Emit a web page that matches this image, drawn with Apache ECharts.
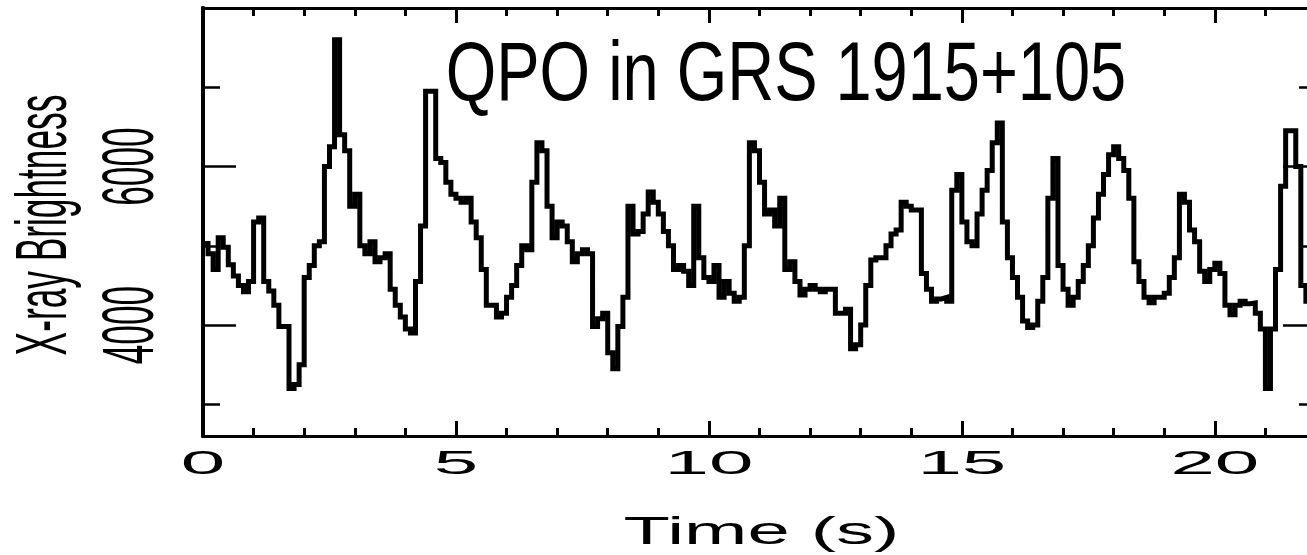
<!DOCTYPE html>
<html>
<head>
<meta charset="utf-8">
<script src="https://cdn.jsdelivr.net/npm/echarts@6/dist/echarts.min.js"></script>
<style>
  html, body { margin: 0; padding: 0; background: #fff; }
  #chart { width: 1307px; height: 555px; }
</style>
</head>
<body>
<div id="chart"></div>
<script>
// ---- data ----
const DT = 0.1; // bin width in seconds
const brightness = [
  5030, 4900, 4700, 5100, 4980, 4760, 4620, 4500, 4420, 4550,
  5300, 5350, 4550, 4430, 4250, 3980, 3980, 3200, 3250, 3500,
  4600, 4750, 5000, 5050, 6000, 6250, 7600, 6400, 6200, 5500,
  5650, 5000, 4900, 5050, 4800, 4850, 4900,
  4450, 4250, 4100, 3950, 3900, 4550, 5250, 6950, 6950, 6100,
  6050, 5800, 5650, 5600, 5550, 5600, 5300, 5100, 4700, 4250,
  4250, 4100, 4150, 4350, 4500, 4750, 5000, 4950, 5800, 6300,
  6200, 5500, 5100, 5300, 5250, 5050,
  4800, 4900, 4950, 4900, 3980, 4080, 4150, 3650, 3450, 3980,
  4350, 5500, 5150, 5180, 5400, 5680, 5550, 5400, 5180, 5000,
  4700, 4750, 4680, 4500, 5500, 4850, 4600, 4550, 4750, 4350,
  4550, 4400, 4300, 4350, 5000, 6300, 6200,
  5800, 5400, 5450, 5250, 5600, 4700, 4800, 4550, 4380, 4450,
  4500, 4450, 4420, 4450, 4450, 4150, 4150, 4200, 3700, 3750,
  4000, 4500, 4820, 4850, 4850, 5000, 5150, 5200, 5550, 5500,
  5450, 5450, 4650, 4450, 4300, 4330,
  4350, 4300, 5700, 5900, 5300, 5050, 5000, 5400, 5700, 5950,
  6300, 6550, 5300, 4850, 4600, 4350, 4050, 3970, 4000, 4300,
  4600, 5600, 6100, 4750, 4450, 4250, 4350, 4550, 4750, 5000,
  5350, 5650, 5900, 6150, 6250, 6100, 5950,
  5600, 4800, 4550, 4350, 4280, 4350, 4350, 4400, 4600, 4850,
  5650, 5550, 5200, 5050, 4680, 4550, 4700, 4780, 4650, 4250,
  4130, 4250, 4300, 4270, 4280, 4150, 3950, 3200, 3950, 4700,
  5750, 6450, 6450, 6000, 4500, 4300, 4350
];
const xMajorTicks = [0, 5, 10, 15, 20];
const xTickLabels = ['0', '5', '10', '15', '20'];
const yMinorTicks = [3000, 5000, 7000];
const yMajorTicks = [4000, 6000];
const yTickLabels = ['4000', '6000'];
const titleText = 'QPO in GRS 1915+105';
const xAxisName = 'Time (s)';
const yAxisName = 'X-ray Brightness';

const X_MIN = 0, X_MAX = 22, Y_MIN = 2600, Y_MAX = 8000;

const seriesData = brightness.map((v, i) => [+(i * DT).toFixed(2), v]);

const chart = echarts.init(document.getElementById('chart'), null, { renderer: 'canvas' });

const FONT = '"Liberation Sans", Arial, sans-serif';

function xAx(position, interval, len, lineW) {
  return {
    type: 'value', position: position, min: X_MIN, max: X_MAX, interval: interval,
    gridIndex: 0,
    axisLine: { show: true, onZero: false, lineStyle: { color: '#000', width: lineW } },
    axisTick: { show: true, inside: true, length: len, lineStyle: { color: '#000', width: 3 } },
    axisLabel: { show: false },
    splitLine: { show: false }
  };
}
function yAx(position, ticks, len, lineW) {
  return {
    type: 'value', position: position, min: Y_MIN, max: Y_MAX,
    gridIndex: 0,
    axisLine: { show: true, onZero: false, lineStyle: { color: '#000', width: lineW } },
    axisTick: { show: true, inside: true, length: len, customValues: ticks, lineStyle: { color: '#000', width: 2.5 } },
    axisLabel: { show: false },
    splitLine: { show: false }
  };
}

chart.setOption({
  animation: false,
  backgroundColor: '#fff',
  grid: { left: 203, top: 8, width: 1113, height: 428, containLabel: false, outerBoundsMode: 'none' },
  xAxis: [
    xAx('bottom', 1, 8, 3),
    xAx('bottom', 5, 15, 3),
    xAx('top', 1, 8, 3),
    xAx('top', 5, 15, 3)
  ],
  yAxis: [
    yAx('left', yMinorTicks, 17, 4),
    yAx('left', yMajorTicks, 33, 4),
    yAx('right', yMinorTicks, 17, 3),
    yAx('right', yMajorTicks, 33, 3)
  ],
  series: [{
    type: 'line',
    xAxisIndex: 0, yAxisIndex: 0,
    data: seriesData,
    step: 'end',
    showSymbol: false,
    symbol: 'none',
    clip: true,
    lineStyle: { color: '#000', width: 5, join: 'miter', cap: 'butt' }
  }]
});

// text elements positioned through the axes' own scales
const graphics = [];
xMajorTicks.forEach((v, i) => {
  const px = chart.convertToPixel({ xAxisIndex: 0 }, v);
  graphics.push({
    type: 'text', x: px, y: 465, scaleX: 2.35, scaleY: 1,
    style: { text: xTickLabels[i], font: '34px ' + FONT, fill: '#000',
             align: 'center', verticalAlign: 'middle', textAlign: 'center', textVerticalAlign: 'middle' }
  });
});
yMajorTicks.forEach((v, i) => {
  const py = chart.convertToPixel({ yAxisIndex: 0 }, v);
  graphics.push({
    type: 'text', x: 133, y: py, rotation: Math.PI / 2, scaleX: 0.49, scaleY: 1,
    style: { text: yTickLabels[i], font: '72px ' + FONT, fill: '#000',
             align: 'center', verticalAlign: 'middle', textAlign: 'center', textVerticalAlign: 'middle' }
  });
});
const gridMidY = (chart.convertToPixel({ yAxisIndex: 0 }, Y_MIN) + chart.convertToPixel({ yAxisIndex: 0 }, Y_MAX)) / 2;
const gridMidX = (chart.convertToPixel({ xAxisIndex: 0 }, X_MIN) + chart.convertToPixel({ xAxisIndex: 0 }, X_MAX)) / 2;
graphics.push({
  type: 'text', x: 46, y: gridMidY + 3, rotation: Math.PI / 2, scaleX: 0.49, scaleY: 1,
  style: { text: yAxisName, font: '72px ' + FONT, fill: '#000',
           align: 'center', verticalAlign: 'middle', textAlign: 'center', textVerticalAlign: 'middle' }
});
graphics.push({
  type: 'text', x: gridMidX + 2, y: 534, scaleX: 2.0, scaleY: 1,
  style: { text: xAxisName, font: '38px ' + FONT, fill: '#000',
           align: 'center', verticalAlign: 'middle', textAlign: 'center', textVerticalAlign: 'middle' }
});
graphics.push({
  type: 'text', x: 786, y: 77, scaleX: 0.773, scaleY: 1,
  style: { text: titleText, font: '84px ' + FONT, fill: '#000',
           align: 'center', verticalAlign: 'middle', textAlign: 'center', textVerticalAlign: 'middle' }
});
chart.setOption({ graphic: graphics });
</script>
</body>
</html>
